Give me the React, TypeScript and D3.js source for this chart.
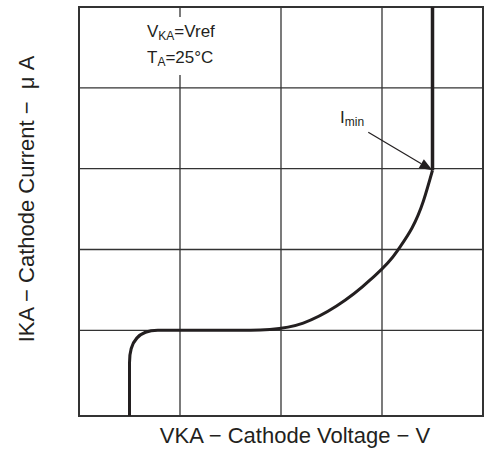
import { useEffect, useRef } from "react";
import * as d3 from "d3";

// grid positions (in grid units)
const gridX = [1, 2, 3];
const gridY = [1, 2, 3, 4];

// knee at low voltage: vertical rise, corner, flat run
const kneeV = [0.5, 0.5, 0.5, 0.78];
const kneeI = [-0.06, 0.6, 1.0, 1.0];

// rising part of the characteristic up to Imin
const riseV = [0.78, 1.7, 1.89, 2.22, 2.55, 2.88, 3.15, 3.41, 3.5];
const riseI = [1.0, 1.0, 1.01, 1.09, 1.3, 1.62, 1.98, 2.6, 2.98];

// vertical above Imin
const topV = [3.5, 3.5];
const topI = [2.98, 5];

// Imin arrow
const arrowV = [2.864, 3.5];
const arrowI = [3.45, 2.98];

const INK = "#231f20";
const GRID = "#333";

export default function App() {
  const ref = useRef<HTMLDivElement>(null);

  useEffect(() => {
    if (!ref.current) return;
    d3.select(ref.current).selectAll("*").remove();

    const W = 484;
    const H = 452;
    const left = 79;
    const right = 483;
    const top = 7;
    const bottom = 416;

    const svg = d3
      .select(ref.current)
      .append("svg")
      .attr("width", W)
      .attr("height", H)
      .style("display", "block")
      .style("font-family", "'Liberation Sans', Arial, sans-serif");

    const x = d3.scaleLinear().domain([0, 4]).range([left, right]);
    const y = d3.scaleLinear().domain([-0.06, 5]).range([bottom, top]);

    // Grid
    svg
      .selectAll("line.gx")
      .data(gridX)
      .join("line")
      .attr("class", "gx")
      .attr("x1", (d) => x(d))
      .attr("x2", (d) => x(d))
      .attr("y1", top)
      .attr("y2", bottom)
      .attr("stroke", GRID)
      .attr("stroke-width", 1.3);

    svg
      .selectAll("line.gy")
      .data(gridY)
      .join("line")
      .attr("class", "gy")
      .attr("x1", left)
      .attr("x2", right)
      .attr("y1", (d) => y(d))
      .attr("y2", (d) => y(d))
      .attr("stroke", GRID)
      .attr("stroke-width", 1.3);

    // Frame
    svg
      .append("rect")
      .attr("x", left)
      .attr("y", top)
      .attr("width", right - left)
      .attr("height", bottom - top)
      .attr("fill", "none")
      .attr("stroke", GRID)
      .attr("stroke-width", 2);

    // Conditions box (white behind text)
    svg
      .append("rect")
      .attr("x", 141)
      .attr("y", 17)
      .attr("width", 90)
      .attr("height", 58)
      .attr("fill", "#fff");

    const cond = [
      { main: "V", sub: "KA", rest: "=Vref" },
      { main: "T", sub: "A", rest: "=25°C" },
    ];
    cond.forEach((c, i) => {
      const t = svg
        .append("text")
        .attr("x", 147)
        .attr("y", 37 + i * 26)
        .attr("font-size", 17)
        .attr("fill", INK);
      t.append("tspan").text(c.main);
      t.append("tspan").attr("font-size", 12).attr("dy", 3).text(c.sub);
      t.append("tspan").attr("dy", -3).text(c.rest);
    });

    // Curve: knee (line + quadratic corner) then monotone rise
    const p = d3.path();
    p.moveTo(x(kneeV[0]), y(kneeI[0]));
    p.lineTo(x(kneeV[1]), y(kneeI[1]));
    p.quadraticCurveTo(x(kneeV[2]), y(kneeI[2]), x(kneeV[3]), y(kneeI[3]));

    const rise = d3
      .line<number>()
      .x((d) => x(riseV[d]))
      .y((d) => y(riseI[d]))
      .curve(d3.curveMonotoneX);
    const riseD = rise(d3.range(riseV.length)) || "";

    svg
      .append("path")
      .attr("fill", "none")
      .attr("stroke", INK)
      .attr("stroke-width", 3)
      .attr("stroke-linejoin", "round")
      .attr("d", p.toString() + riseD.replace(/^M/, "L"));

    svg
      .append("line")
      .attr("x1", x(topV[0]))
      .attr("x2", x(topV[1]))
      .attr("y1", y(topI[0]))
      .attr("y2", y(topI[1]))
      .attr("stroke", INK)
      .attr("stroke-width", 3.5);

    // Imin arrow
    const x0 = x(arrowV[0]);
    const y0 = y(arrowI[0]);
    const x1 = x(arrowV[1]);
    const y1 = y(arrowI[1]);
    const ang = Math.atan2(y1 - y0, x1 - x0);
    const hl = 13;
    const hw = 5;
    const bx = x1 - hl * Math.cos(ang);
    const by = y1 - hl * Math.sin(ang);

    svg
      .append("line")
      .attr("x1", x0)
      .attr("y1", y0)
      .attr("x2", bx)
      .attr("y2", by)
      .attr("stroke", INK)
      .attr("stroke-width", 1.2);

    svg
      .append("polygon")
      .attr(
        "points",
        [
          [x1, y1],
          [bx + hw * Math.sin(ang), by - hw * Math.cos(ang)],
          [bx - hw * Math.sin(ang), by + hw * Math.cos(ang)],
        ]
          .map((q) => q.join(","))
          .join(" "),
      )
      .attr("fill", INK);

    const imin = svg
      .append("text")
      .attr("x", 340)
      .attr("y", 123)
      .attr("font-size", 17)
      .attr("fill", INK);
    imin.append("tspan").text("I");
    imin.append("tspan").attr("font-size", 12).attr("dy", 3).text("min");

    // Axis titles
    svg
      .append("text")
      .attr("x", 295)
      .attr("y", 443)
      .attr("text-anchor", "middle")
      .attr("font-size", 22)
      .attr("fill", INK)
      .text("VKA − Cathode Voltage − V");

    svg
      .append("text")
      .attr("transform", "translate(34,199) rotate(-90)")
      .attr("text-anchor", "middle")
      .attr("font-size", 22)
      .attr("fill", INK)
      .style("white-space", "pre")
      .text("IKA − Cathode Current −  μ A");
  }, []);

  return <div ref={ref} style={{ position: "absolute", left: 0, top: 0 }} />;
}
